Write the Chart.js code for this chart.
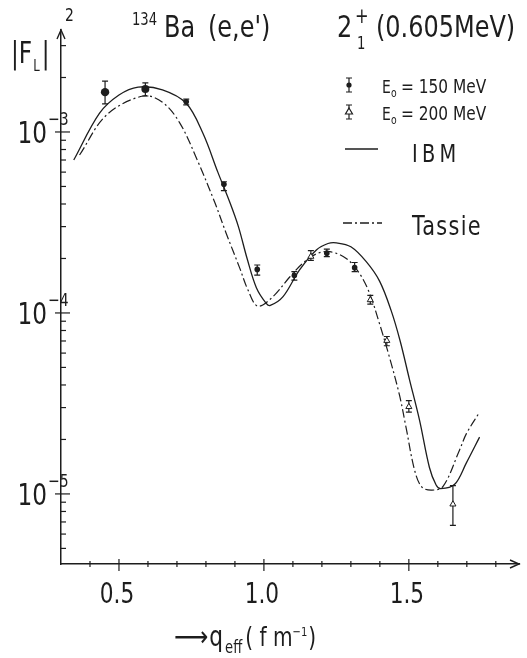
<!DOCTYPE html>
<html>
<head>
<meta charset="utf-8">
<script src="https://cdn.jsdelivr.net/npm/chart.js@4.4.1/dist/chart.umd.min.js"></script>
<style>
html, body { margin: 0; padding: 0; background: #fff; }
#box { width: 527px; height: 658px; }
</style>
</head>
<body>
<div id="box"><canvas id="stage" width="527" height="658"></canvas></div>
<script>
// 134Ba (e,e') 2+1 (0.605 MeV) |F_L|^2 vs q_eff

// (1) データ: E0 = 150 MeV の測定点
const q150  = [0.452, 0.591, 0.732, 0.862, 0.977, 1.105, 1.217, 1.313];
const f150  = [1.66e-3, 1.73e-3, 1.47e-3, 5.14e-4, 1.74e-4, 1.61e-4, 2.14e-4, 1.78e-4];
const hi150 = [1.91e-3, 1.87e-3, 1.52e-3, 5.31e-4, 1.84e-4, 1.69e-4, 2.25e-4, 1.90e-4];
const lo150 = [1.43e-3, 1.58e-3, 1.41e-3, 4.74e-4, 1.62e-4, 1.52e-4, 2.05e-4, 1.69e-4];

// E0 = 200 MeV の測定点
const q200  = [1.162, 1.367, 1.424, 1.500, 1.652];
const f200  = [2.05e-4, 1.18e-4, 7.03e-5, 3.03e-5, 8.77e-6];
const hi200 = [2.21e-4, 1.25e-4, 7.41e-5, 3.28e-5, 1.11e-5];
const lo200 = [1.95e-4, 1.12e-4, 6.59e-5, 2.83e-5, 6.7e-6];

// IBM 計算曲線 (実線)
const ibmQ = [0.344, 0.433, 0.50, 0.566, 0.65, 0.732, 0.79, 0.841, 0.882, 0.912, 0.942, 0.974,
              1.008, 1.022, 1.066, 1.123, 1.181, 1.221, 1.25, 1.30, 1.353, 1.399, 1.439, 1.470,
              1.502, 1.537, 1.571, 1.594, 1.610, 1.658, 1.698, 1.744];
const ibmF = [7.0e-4, 1.27e-3, 1.6e-3, 1.77e-3, 1.71e-3, 1.44e-3, 9.8e-4, 6.0e-4, 4.1e-4, 3.0e-4, 2.0e-4, 1.38e-4,
              1.13e-4, 1.10e-4, 1.23e-4, 1.73e-4, 2.23e-4, 2.42e-4, 2.44e-4, 2.32e-4, 1.92e-4, 1.50e-4, 1.03e-4, 7.0e-5,
              4.3e-5, 2.55e-5, 1.40e-5, 1.12e-5, 1.07e-5, 1.13e-5, 1.48e-5, 2.06e-5];

// Tassie 模型曲線 (一点鎖線)
const tasQ = [0.364, 0.457, 0.583, 0.65, 0.71, 0.77, 0.83, 0.870, 0.916, 0.945, 0.979, 1.031,
              1.089, 1.134, 1.181, 1.227, 1.284, 1.329, 1.364, 1.399, 1.433, 1.468, 1.491, 1.52,
              1.545, 1.58, 1.618, 1.675, 1.699, 1.744];
const tasF = [7.46e-4, 1.24e-3, 1.58e-3, 1.46e-3, 1.12e-3, 7.0e-4, 4.1e-4, 2.75e-4, 1.78e-4, 1.34e-4, 1.09e-4, 1.23e-4,
              1.58e-4, 1.88e-4, 2.12e-4, 2.18e-4, 2.0e-4, 1.66e-4, 1.29e-4, 8.7e-5, 5.7e-5, 3.5e-5, 2.3e-5, 1.35e-5,
              1.09e-5, 1.05e-5, 1.1e-5, 1.75e-5, 2.16e-5, 2.83e-5];

// 軸目盛
const xTicks = [0.4, 0.5, 0.6, 0.7, 0.8, 0.9, 1.0, 1.1, 1.2, 1.3, 1.4, 1.5, 1.6, 1.7, 1.8];
const xLabels = ['0.5', '1.0', '1.5'];
const yDecades = [1e-3, 1e-4, 1e-5];
const yExpLabels = ['−3', '−4', '−5'];

const FONT = "'DejaVu Sans Condensed', 'DejaVu Sans', sans-serif";
const INK = '#1d1d1d';

function pts(xs, ys) {
    return xs.map((x, i) => ({ x: x, y: ys[i] }));
}

// 横に少し詰めた文字を描く。戻り値は右端の x。
function txt(ctx, s, x, y, size, align, spacing, sx) {
    sx = sx || 0.86;
    ctx.save();
    ctx.font = size + 'px ' + FONT;
    ctx.textAlign = align || 'left';
    ctx.letterSpacing = (spacing || 0) + 'px';
    const w = ctx.measureText(s).width * sx;
    ctx.translate(x, y);
    ctx.scale(sx, 1);
    ctx.fillText(s, 0, 0);
    ctx.restore();
    return align === 'right' ? x : align === 'center' ? x + w / 2 : x + w;
}

// (2) 誤差棒・目盛・文字を描くプラグイン
const decor = {
    id: 'decor',
    beforeDatasetsDraw(chart) {
        const ctx = chart.ctx, xs = chart.scales.x, ys = chart.scales.y;
        ctx.save();
        ctx.strokeStyle = INK;
        ctx.lineWidth = 1.2;
        const bars = (q, lo, hi) => {
            q.forEach((v, i) => {
                const x = xs.getPixelForValue(v);
                const y1 = ys.getPixelForValue(hi[i]), y2 = ys.getPixelForValue(lo[i]);
                ctx.beginPath();
                ctx.moveTo(x, y1); ctx.lineTo(x, y2);
                ctx.moveTo(x - 3, y1); ctx.lineTo(x + 3, y1);
                ctx.moveTo(x - 3, y2); ctx.lineTo(x + 3, y2);
                ctx.stroke();
            });
        };
        bars(q150, lo150, hi150);
        bars(q200, lo200, hi200);
        ctx.restore();
    },
    afterDraw(chart) {
        const ctx = chart.ctx, xs = chart.scales.x, ys = chart.scales.y;
        const a = chart.chartArea;
        ctx.save();
        ctx.strokeStyle = INK;
        ctx.fillStyle = INK;
        ctx.lineWidth = 1.4;

        // 矢印
        ctx.beginPath();
        ctx.moveTo(a.left - 4, a.top + 9); ctx.lineTo(a.left, a.top); ctx.lineTo(a.left + 4, a.top + 9);
        ctx.moveTo(a.right - 9, a.bottom - 4); ctx.lineTo(a.right, a.bottom); ctx.lineTo(a.right - 9, a.bottom + 4);
        ctx.stroke();

        // y 目盛 (対数)
        ctx.lineWidth = 1.2;
        for (let e = -6; e <= -2; e++) {
            for (let m = 1; m <= 9; m++) {
                const v = m * Math.pow(10, e);
                if (v < ys.min || v > ys.max) continue;
                const y = ys.getPixelForValue(v);
                ctx.beginPath();
                if (m === 1) { ctx.moveTo(a.left - 6, y); ctx.lineTo(a.left + 9, y); }
                else { ctx.moveTo(a.left, y); ctx.lineTo(a.left + 5, y); }
                ctx.stroke();
            }
        }
        // x 目盛
        xTicks.forEach(v => {
            const x = xs.getPixelForValue(v);
            const major = Math.abs(v * 2 - Math.round(v * 2)) < 1e-6;
            ctx.beginPath();
            if (major) { ctx.moveTo(x, a.bottom - 5); ctx.lineTo(x, a.bottom + 7); }
            else { ctx.moveTo(x, a.bottom - 3); ctx.lineTo(x, a.bottom + 3); }
            ctx.stroke();
        });

        // 目盛ラベル
        ctx.textBaseline = 'alphabetic';
        yDecades.forEach((v, i) => {
            const y = ys.getPixelForValue(v);
            txt(ctx, '10', a.left - 14, y + 11, 30, 'right');
            txt(ctx, yExpLabels[i], a.left - 13, y - 7, 18, 'left');
        });
        xLabels.forEach(s => {
            const x = xs.getPixelForValue(parseFloat(s));
            txt(ctx, s, x - 2, a.bottom + 39, 28, 'center');
        });

        // 縦軸タイトル |F_L|^2
        let p = txt(ctx, '|F', 11, 63, 30);
        p = txt(ctx, 'L', p + 1, 71, 15);
        txt(ctx, '|', p + 2, 63, 30);
        txt(ctx, '2', 65, 21, 18);

        // 横軸タイトル
        p = txt(ctx, '⟶', 174, 646, 28, 'left', 0, 0.95);
        p = txt(ctx, 'q', p + 1, 646, 28);
        p = txt(ctx, 'eff', p + 2, 653, 17);
        p = txt(ctx, '( f m', p + 3, 646, 26);
        p = txt(ctx, '−1', p, 636, 13);
        txt(ctx, ')', p + 1, 646, 26);

        // タイトル
        txt(ctx, '134', 132, 25, 17);
        p = txt(ctx, 'Ba', 164, 37, 31);
        txt(ctx, "(e,e')", 208, 37, 31);
        txt(ctx, '2', 337, 37, 31);
        txt(ctx, '1', 357, 49, 17);
        txt(ctx, '+', 355, 23, 21);
        txt(ctx, '(0.605MeV)', 376, 37, 31);

        // 凡例
        ctx.lineWidth = 1.2;
        ctx.beginPath();
        ctx.moveTo(349, 78); ctx.lineTo(349, 92);
        ctx.moveTo(346, 78); ctx.lineTo(352, 78);
        ctx.moveTo(346, 92); ctx.lineTo(352, 92);
        ctx.moveTo(349, 105); ctx.lineTo(349, 119);
        ctx.moveTo(346, 105); ctx.lineTo(352, 105);
        ctx.moveTo(346, 119); ctx.lineTo(352, 119);
        ctx.stroke();
        ctx.beginPath(); ctx.arc(349, 85, 2.6, 0, Math.PI * 2); ctx.fill();
        ctx.fillStyle = '#fff';
        ctx.beginPath(); ctx.moveTo(349, 108); ctx.lineTo(352.5, 114); ctx.lineTo(345.5, 114); ctx.closePath();
        ctx.fill(); ctx.stroke();
        ctx.fillStyle = INK;

        txt(ctx, 'E', 382, 93, 18);
        txt(ctx, 'o', 391, 97, 12);
        txt(ctx, '= 150 MeV', 401, 93, 19, 'left', 0, 0.9);
        txt(ctx, 'E', 382, 120, 18);
        txt(ctx, 'o', 391, 124, 12);
        txt(ctx, '= 200 MeV', 401, 120, 19, 'left', 0, 0.9);

        ctx.lineWidth = 1.3;
        ctx.beginPath(); ctx.moveTo(345, 149); ctx.lineTo(378, 149); ctx.stroke();
        txt(ctx, 'IBM', 412, 162, 25, 'left', 5);
        ctx.setLineDash([9, 3, 2, 3]);
        ctx.beginPath(); ctx.moveTo(343, 223); ctx.lineTo(382, 223); ctx.stroke();
        ctx.setLineDash([]);
        txt(ctx, 'Tassie', 412, 235, 27, 'left', 1.5);

        ctx.restore();
    }
};

// (3) チャート描画
new Chart(document.getElementById('stage'), {
    type: 'line',
    data: {
        datasets: [
            {
                label: 'E0 = 150 MeV',
                data: pts(q150, f150),
                showLine: false,
                pointStyle: 'circle',
                pointRadius: [4.2, 4, 2.8, 2.8, 2.8, 2.8, 2.8, 2.8],
                backgroundColor: INK,
                borderColor: INK,
                borderWidth: 0
            },
            {
                label: 'E0 = 200 MeV',
                data: pts(q200, f200),
                showLine: false,
                pointStyle: 'triangle',
                pointRadius: 3.5,
                backgroundColor: '#fff',
                borderColor: INK,
                borderWidth: 1
            },
            {
                label: 'IBM',
                data: pts(ibmQ, ibmF),
                borderColor: INK,
                borderWidth: 1.3,
                pointRadius: 0,
                tension: 0.35
            },
            {
                label: 'Tassie',
                data: pts(tasQ, tasF),
                borderColor: INK,
                borderWidth: 1.2,
                borderDash: [9, 3, 2, 3],
                pointRadius: 0,
                tension: 0.35
            }
        ]
    },
    options: {
        responsive: false,
        animation: false,
        devicePixelRatio: 1,
        layout: { padding: { top: 30, right: 8, left: 0, bottom: 0 } },
        plugins: {
            legend: { display: false },
            tooltip: { enabled: false },
            title: { display: false }
        },
        scales: {
            x: {
                type: 'linear',
                min: 0.3,
                max: 1.88,
                grid: { display: false },
                ticks: { display: false },
                border: { display: true, color: INK, width: 1.5 },
                afterFit: s => { s.height = 94; }
            },
            y: {
                type: 'logarithmic',
                min: 4.1e-6,
                max: 3.66e-3,
                grid: { display: false },
                ticks: { display: false },
                border: { display: true, color: INK, width: 1.5 },
                afterFit: s => { s.width = 61; }
            }
        }
    },
    plugins: [decor]
});
</script>
</body>
</html>
